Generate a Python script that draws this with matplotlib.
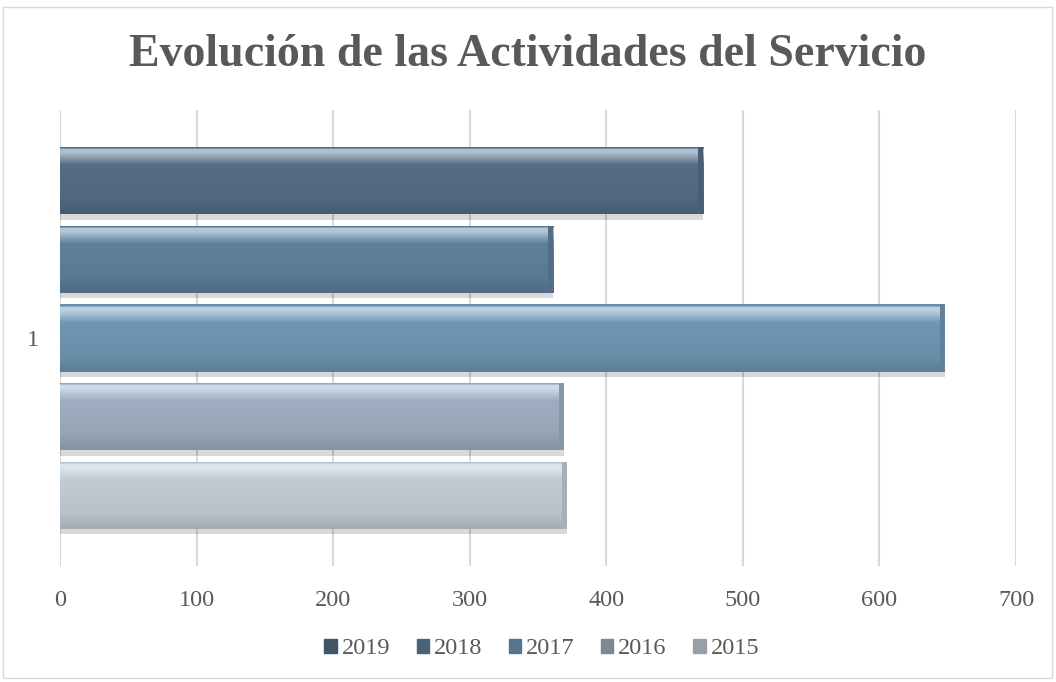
import numpy as np
import matplotlib
matplotlib.use("Agg")
import matplotlib.pyplot as plt
import matplotlib.patheffects as pe
from matplotlib.colors import to_rgb
from matplotlib.patches import Rectangle

# data
YEARS = ['2015', '2016', '2017', '2018', '2019']
VALUES = [371, 369, 648, 361, 471]
COLORS = ['#c3ccd5', '#9eaec0', '#6f96b3', '#5f7f9b', '#556d85']
CATEGORY = ['1']
XTICKS = [0, 100, 200, 300, 400, 500, 600, 700]

TXT = '#595959'
SERIF = ['Liberation Serif', 'DejaVu Serif']

fig = plt.figure(figsize=(10.56, 6.82), dpi=100)
ax = fig.add_axes([60/1056, 1-566/682, (1016-60)/1056, (566-110)/682])

n = len(YEARS)
step = 0.1724
height = 0.147
offsets = (np.arange(n) - (n-1)/2) * step


def gradient(base):
    # bevel look: thin edge, bright band on top, then base, darker near the bottom
    b = np.array(to_rgb(base))
    light = b + (np.array([0.92, 0.97, 1.0]) - b) * 0.6
    dark = b * 0.84
    t = np.linspace(0, 1, 80)
    rows = []
    for v in t:
        if v < 0.03:
            c = b * 0.95
        elif v < 0.09:
            c = light
        elif v < 0.27:
            c = light + (b - light) * (v - 0.09) / 0.18
        elif v < 0.75:
            c = b + (b * 0.95 - b) * (v - 0.27) / 0.48
        else:
            c = b * 0.95 + (dark - b * 0.95) * (v - 0.75) / 0.25
        rows.append(c)
    return np.clip(np.array(rows), 0, 1)[:, None, :]


for i, (yr, v, c) in enumerate(zip(YEARS, VALUES, COLORS)):
    bars = ax.barh(0 + offsets[i], v, height=height, color=c, label=yr, zorder=3)
    for p in bars:
        p.set_path_effects([pe.SimplePatchShadow(offset=(0, -4), shadow_rgbFace='#000000', alpha=0.15),
                            pe.Normal()])
        x0, y0 = p.get_x(), p.get_y()
        w, h = p.get_width(), p.get_height()
        im = ax.imshow(gradient(c), extent=[x0, x0 + w, y0, y0 + h], aspect='auto',
                       origin='upper', zorder=4, interpolation='bilinear')
        im.set_clip_path(p)
        # bevel on the right end
        ax.add_patch(Rectangle((x0 + w - 3.5, y0), 3.5, h, color=np.array(to_rgb(c)) * 0.86,
                               zorder=5, lw=0))

ax.set_xlim(0, 700)
ax.set_ylim(-0.5, 0.5)
ax.set_xticks(XTICKS)
ax.set_xticklabels([str(t) for t in XTICKS], fontfamily=SERIF, fontsize=17.5, color=TXT)
ax.set_yticks([0])
ax.set_yticklabels(CATEGORY, fontfamily=SERIF, fontsize=17.5, color=TXT)
ax.tick_params(axis='x', length=0, pad=17)
ax.tick_params(axis='y', length=0, pad=15)
ax.grid(axis='x', color='#d9d9d9', lw=1.5, zorder=0)
ax.set_axisbelow(True)
for s in ax.spines.values():
    s.set_visible(False)

fig.text(0.5, 1-55/682, 'Evolución de las Actividades del Servicio', ha='center', va='center',
         fontsize=33, fontweight='bold', color=TXT, fontfamily=SERIF)

handles = [Rectangle((0, 0), 1, 1, color=np.array(to_rgb(c)) * 0.78) for c in COLORS]
leg = fig.legend(handles[::-1], YEARS[::-1], loc='center', bbox_to_anchor=(0.513, 1-649/682),
                 ncol=5, frameon=False, handlelength=0.5, handleheight=0.5, handletextpad=0.2,
                 columnspacing=1.1, prop={'family': SERIF, 'size': 17.5})
for t in leg.get_texts():
    t.set_color(TXT)

# outer chart border
fig.add_artist(Rectangle((3/1056, 4/682), 1 - 7/1056, 1 - 11/682, transform=fig.transFigure,
                         fill=False, edgecolor='#d9d9d9', lw=1))

fig.savefig('out.png', dpi=100)
